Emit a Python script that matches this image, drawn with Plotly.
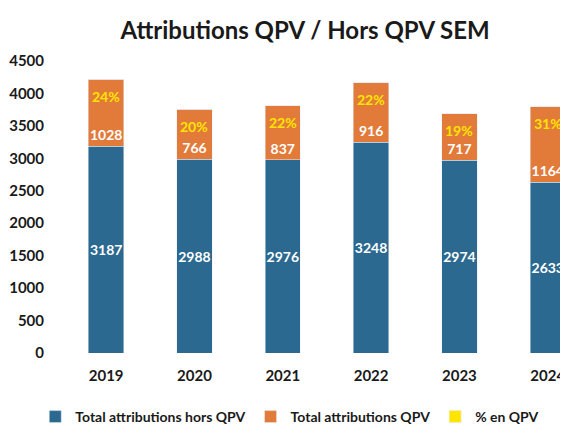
"""Attributions QPV / Hors QPV SEM - barres empilées."""

import plotly.graph_objects as go

annees = ["2019", "2020", "2021", "2022", "2023", "2024"]
hors_qpv = [3187, 2988, 2976, 3248, 2974, 2633]
qpv = [1028, 766, 837, 916, 717, 1164]
pct_qpv = ["24%", "20%", "22%", "22%", "19%", "31%"]

BLEU = "#2b6990"
ORANGE = "#e27b3a"
JAUNE = "#ffe500"
FONT = "Lato"

totaux = [a + b for a, b in zip(hors_qpv, qpv)]

label_font = dict(color="white", size=14, family=FONT, weight="bold")

fig = go.Figure()
fig.add_trace(go.Bar(
    x=annees, y=hors_qpv, name="Total attributions hors QPV",
    marker_color=BLEU, width=0.4,
    text=hors_qpv, textposition="inside", insidetextanchor="middle",
    textangle=0, constraintext="none", textfont=label_font,
))
fig.add_trace(go.Bar(
    x=annees, y=qpv, name="Total attributions QPV",
    marker_color=ORANGE, width=0.4,
    text=qpv, textposition="inside", insidetextanchor="start",
    textangle=0, constraintext="none", textfont=label_font,
))
# série "% en QPV" : carré jaune de la légende
fig.add_trace(go.Bar(
    x=annees, y=[0] * len(annees), name="% en QPV",
    marker_color=JAUNE, width=0.4, hoverinfo="skip",
))

# étiquettes % sous le sommet de chaque barre
# (x en rang de catégorie : "2019" serait lu comme un indice numérique)
for i, (tot, pct) in enumerate(zip(totaux, pct_qpv)):
    fig.add_annotation(
        x=i, y=tot, xref="x", yref="y", text=pct, showarrow=False,
        yanchor="middle", yshift=-17,
        font=dict(color=JAUNE, size=14, family=FONT, weight="bold"),
    )

# la page html ajoute ~8px de marge au body : décalage compensé ici
fig.update_layout(
    width=568, height=425,
    barmode="stack",
    title=dict(
        text="<b>Attributions QPV / Hors QPV SEM</b>",
        x=0.523, xanchor="center", y=0.948, yanchor="middle",
        font=dict(size=24, color="#1a1a1a", family=FONT),
    ),
    font=dict(family=FONT, size=14, color="#1a1a1a"),
    plot_bgcolor="white", paper_bgcolor="white",
    margin=dict(l=54, r=0, t=53, b=80),
    xaxis=dict(
        type="category", range=[-0.5, 5.32], showgrid=False, showline=False,
        ticks="", tickfont=dict(size=15, family=FONT, weight="bold"),
        ticklabelstandoff=12, automargin=False,
    ),
    yaxis=dict(
        range=[0, 4500], dtick=500, showgrid=False, showline=False,
        zeroline=False, ticks="",
        tickfont=dict(size=15, family=FONT, weight="bold"),
        ticklabelstandoff=17, automargin=False,
    ),
    legend=dict(
        orientation="h", xref="container", x=0.048, xanchor="left",
        yref="container", y=-0.012, yanchor="bottom",
        font=dict(size=14, family=FONT, weight="bold"),
        traceorder="normal", itemwidth=30,
    ),
)

fig.write_html("out.html")
